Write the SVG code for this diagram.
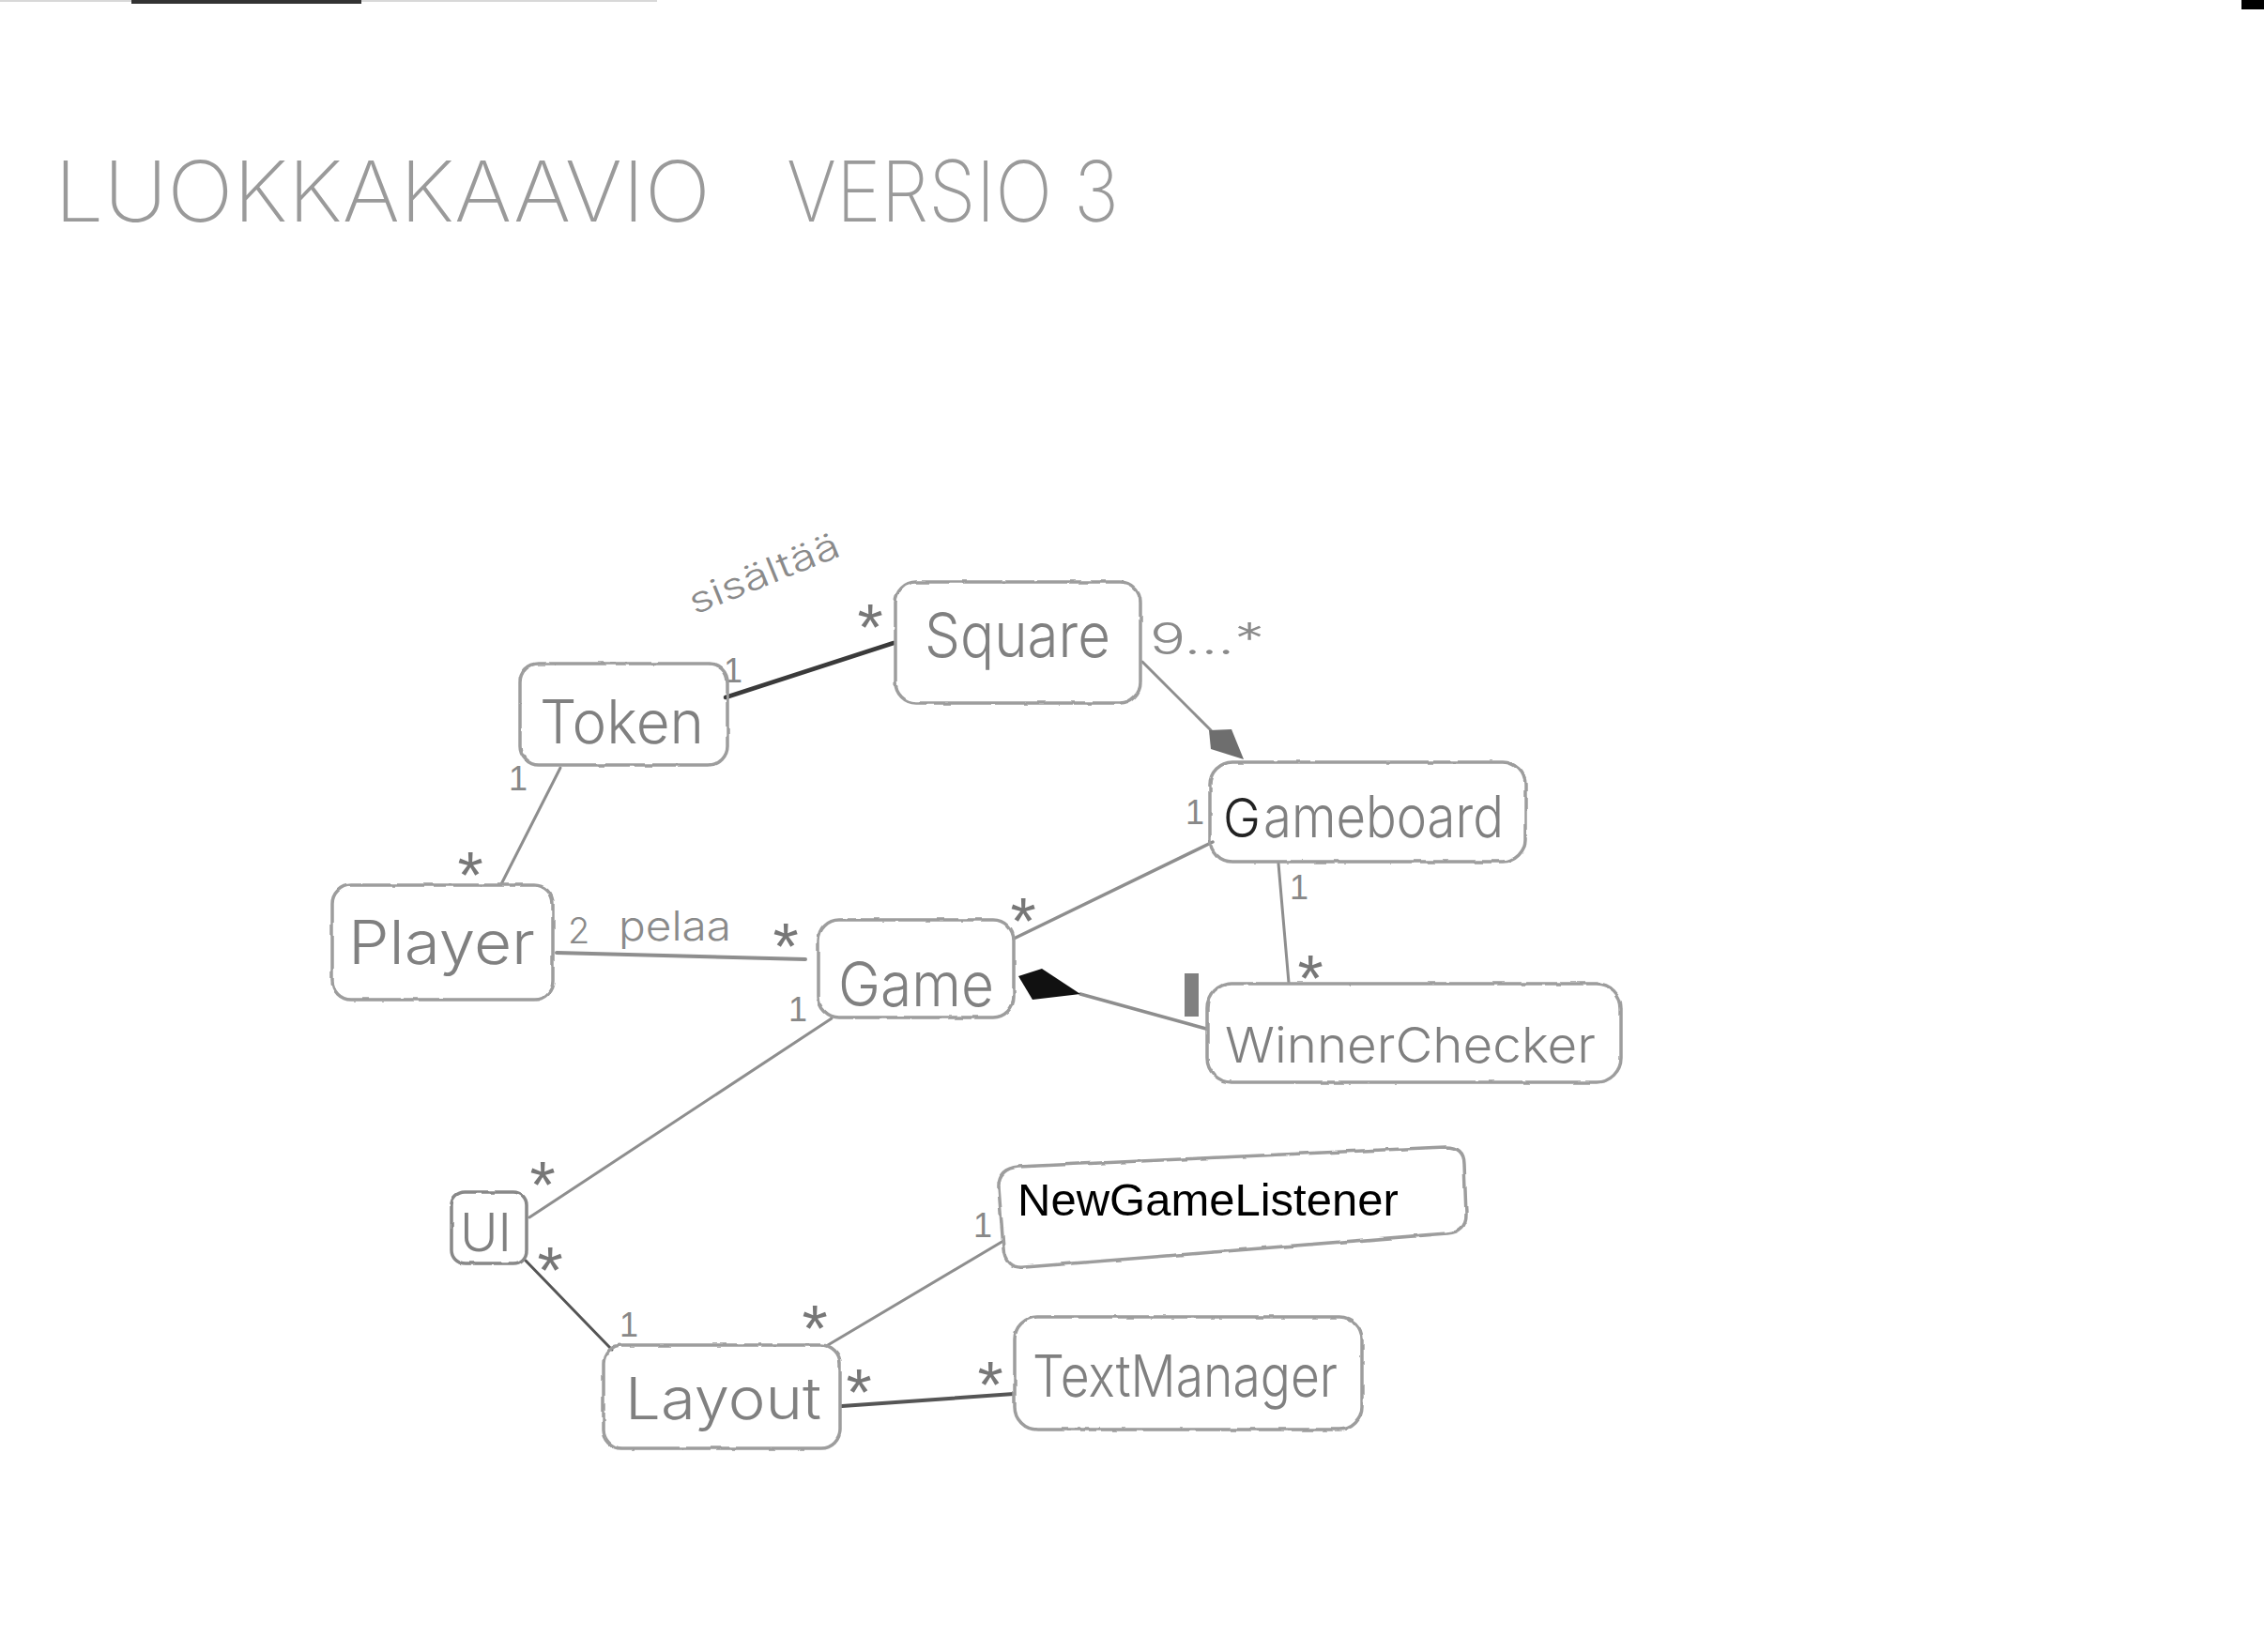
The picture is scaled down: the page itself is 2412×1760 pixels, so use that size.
<svg xmlns="http://www.w3.org/2000/svg" width="2412" height="1760" viewBox="0 0 2412 1760">
<defs>
<filter id="pencil" x="-5%" y="-5%" width="110%" height="110%">
<feTurbulence type="fractalNoise" baseFrequency="0.06" numOctaves="2" seed="3" result="n"/>
<feDisplacementMap in="SourceGraphic" in2="n" scale="3" xChannelSelector="R" yChannelSelector="G"/>
</filter>
</defs>
<style>
.box{fill:none;stroke:#9d9d9d;stroke-width:3.5;filter:url(#pencil)}
.lbl{font-family:Inter,"Liberation Sans",sans-serif;font-weight:300;fill:#808080}
.ln{stroke:#8e8e8e;stroke-width:3;fill:none;stroke-linecap:round}
.ast{font-family:"Liberation Sans",sans-serif;font-size:70px;fill:#777;text-anchor:middle}
.one{font-family:"Liberation Sans",sans-serif;font-size:36px;fill:#888;text-anchor:middle}
.note{font-family:Inter,"Liberation Sans",sans-serif;font-weight:300;fill:#8a8a8a}
.title{font-family:Inter,"Liberation Sans",sans-serif;font-weight:200;font-size:90px;fill:#9a9a9a}
</style>
<rect width="2412" height="1760" fill="#fff"/>
<g id="marks">
<line x1="0" y1="1" x2="700" y2="1" stroke="#d8d8d8" stroke-width="2"/>
<line x1="140" y1="2" x2="385" y2="2" stroke="#333" stroke-width="4"/>
<rect x="2388" y="0" width="24" height="10" fill="#000"/>
<rect x="1262" y="1037" width="15" height="46" fill="#808080"/>
</g>
<g id="title">
<text class="title" x="58" y="236" textLength="699" lengthAdjust="spacingAndGlyphs">LUOKKAKAAVIO</text>
<text class="title" x="838" y="236" textLength="354" lengthAdjust="spacingAndGlyphs">VERSIO 3</text>
</g>
<g id="connectors">
<line class="ln" x1="773" y1="743" x2="952" y2="685" style="stroke:#3a3a3a;stroke-width:4.5"/>
<line class="ln" x1="597" y1="818" x2="534" y2="942"/>
<line class="ln" x1="593" y1="1015" x2="858" y2="1022" style="stroke-width:4"/>
<line class="ln" x1="1080" y1="1000" x2="1292" y2="897" style="stroke-width:3.5"/>
<line class="ln" x1="1217" y1="705" x2="1290" y2="778"/>
<polygon points="1288,778 1312,777 1325,809 1290,798" fill="#6e6e6e"/>
<line class="ln" x1="1362" y1="920" x2="1373" y2="1047"/>
<line class="ln" x1="1151" y1="1059" x2="1285" y2="1096" style="stroke-width:3.5"/>
<polygon points="1085,1040 1110,1032 1151,1059 1100,1065" fill="#111"/>
<line class="ln" x1="886" y1="1085" x2="564" y2="1297"/>
<line class="ln" x1="560" y1="1343" x2="652" y2="1438" style="stroke:#555"/>
<line class="ln" x1="882" y1="1433" x2="1069" y2="1322"/>
<line class="ln" x1="897" y1="1498" x2="1080" y2="1485" style="stroke:#555;stroke-width:4"/>
</g>
<g id="multiplicities">
<text class="one" x="781" y="727">1</text>
<text class="ast" x="927" y="693">*</text>
<text class="note" x="740" y="655" font-size="38" textLength="170" lengthAdjust="spacingAndGlyphs" transform="rotate(-22 740 655)">sisältää</text>
<text class="one" x="552" y="842">1</text>
<text class="ast" x="501" y="957">*</text>
<text class="note" x="605" y="1005" font-size="38">2</text>
<text class="note" x="659" y="1002" font-size="44" textLength="120" lengthAdjust="spacingAndGlyphs">pelaa</text>
<text class="ast" x="837" y="1033">*</text>
<text class="ast" x="1090" y="1006">*</text>
<text class="one" x="1273" y="878">1</text>
<text class="note" x="1225" y="697" font-size="46" textLength="122" lengthAdjust="spacingAndGlyphs">9...*</text>
<text class="one" x="1384" y="958">1</text>
<text class="ast" x="1396" y="1067">*</text>
<text class="one" x="850" y="1088">1</text>
<text class="ast" x="578" y="1287">*</text>
<text class="ast" x="586" y="1378">*</text>
<text class="one" x="670" y="1424">1</text>
<text class="ast" x="868" y="1440">*</text>
<text class="one" x="1047" y="1318">1</text>
<text class="ast" x="915" y="1508">*</text>
<text class="ast" x="1055" y="1500">*</text>
</g>
<g id="Square">
<rect class="box" x="954" y="620" width="261" height="129" rx="22"/>
<text class="lbl" x="985" y="700" font-size="66" textLength="198" lengthAdjust="spacingAndGlyphs">Square</text>
</g>
<g id="Token">
<rect class="box" x="554" y="707" width="221" height="108" rx="20"/>
<text class="lbl" x="575" y="792" font-size="64" textLength="175" lengthAdjust="spacingAndGlyphs">Token</text>
</g>
<g id="Gameboard">
<rect class="box" x="1289" y="812" width="336" height="106" rx="24"/>
<text class="lbl" x="1303" y="892" font-size="58" textLength="40" lengthAdjust="spacingAndGlyphs" style="fill:#222">G</text>
<text class="lbl" x="1346" y="892" font-size="62" textLength="256" lengthAdjust="spacingAndGlyphs">ameboard</text>
</g>
<g id="WinnerChecker">
<rect class="box" x="1286" y="1048" width="441" height="105" rx="26"/>
<text class="lbl" x="1305" y="1132" font-size="52" textLength="395" lengthAdjust="spacingAndGlyphs">WinnerChecker</text>
</g>
<g id="Player">
<rect class="box" x="354" y="943" width="235" height="122" rx="20"/>
<text class="lbl" x="371" y="1027" font-size="64" textLength="199" lengthAdjust="spacingAndGlyphs">Player</text>
</g>
<g id="Game">
<rect class="box" x="872" y="980" width="208" height="104" rx="22"/>
<text class="lbl" x="893" y="1072" font-size="66" textLength="166" lengthAdjust="spacingAndGlyphs">Game</text>
</g>
<g id="UI">
<rect class="box" x="481" y="1270" width="80" height="76" rx="14" style="stroke:#888"/>
<text class="lbl" x="490" y="1333" font-size="56" textLength="55" lengthAdjust="spacingAndGlyphs">UI</text>
</g>
<g id="NewGameListener">
<path class="box" d="M1085,1243 L1540,1222 Q1560,1222 1560,1240 L1562,1295 Q1562,1312 1542,1314 L1092,1350 Q1070,1352 1069,1330 L1064,1265 Q1063,1245 1085,1243 Z"/>
<text x="1084" y="1295" font-family="'Liberation Sans',Arial,sans-serif" font-size="49" fill="#000">NewGameListener</text>
</g>
<g id="TextManager">
<rect class="box" x="1081" y="1403" width="370" height="120" rx="24"/>
<text class="lbl" x="1100" y="1488" font-size="62" textLength="325" lengthAdjust="spacingAndGlyphs">TextManager</text>
</g>
<g id="Layout">
<rect class="box" x="643" y="1433" width="252" height="110" rx="20"/>
<text class="lbl" x="666" y="1512" font-size="62" textLength="209" lengthAdjust="spacingAndGlyphs">Layout</text>
</g>
</svg>
